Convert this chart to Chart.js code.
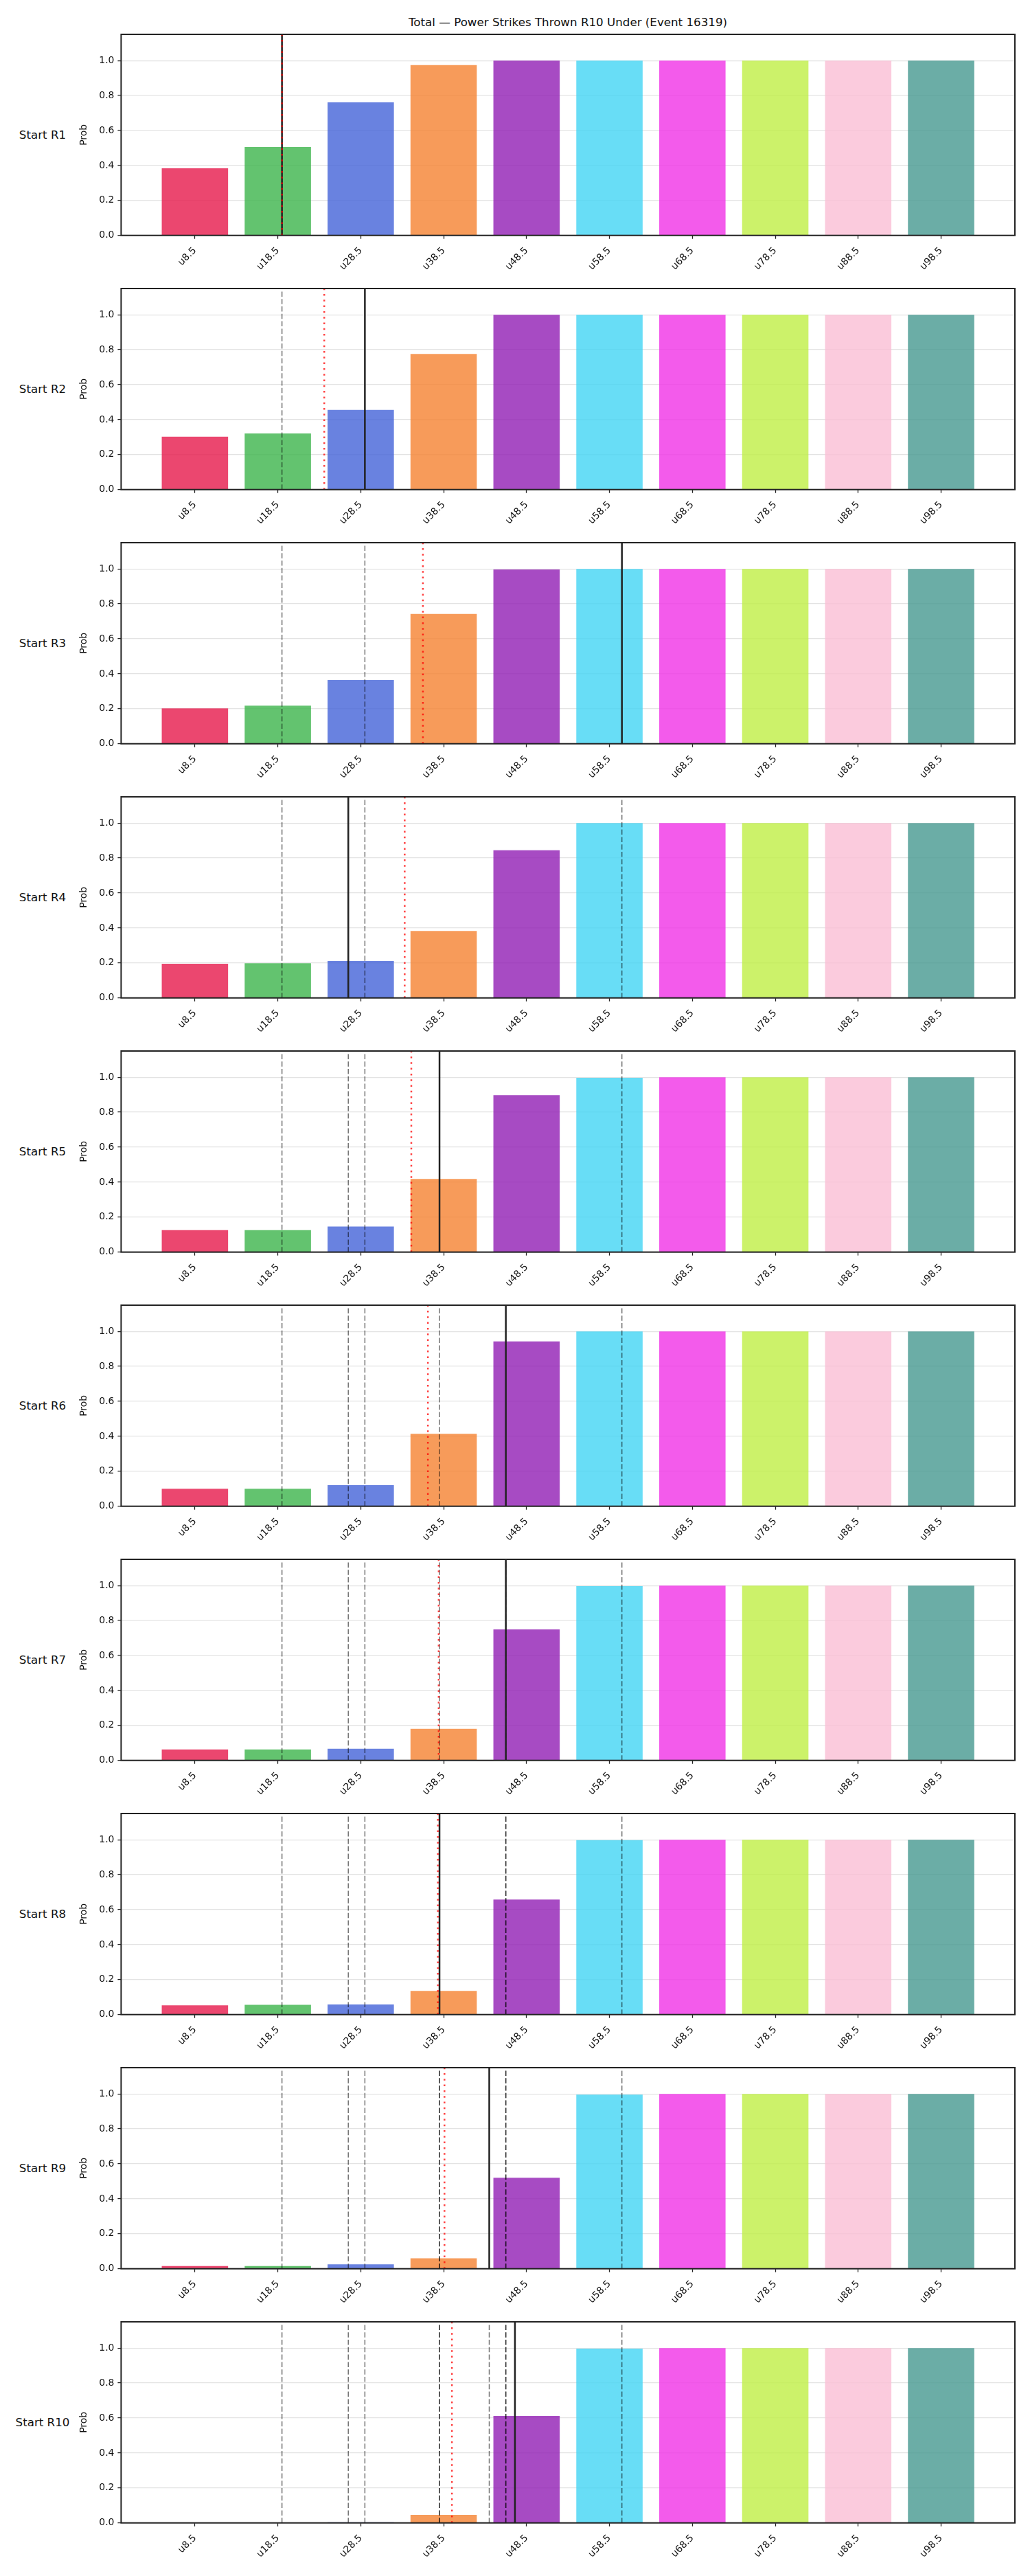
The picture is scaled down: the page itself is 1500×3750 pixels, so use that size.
<!DOCTYPE html>
<html>
<head>
<meta charset="utf-8">
<script src="https://cdn.jsdelivr.net/npm/chart.js@4.4.1/dist/chart.umd.min.js"></script>
<style>
  body { margin: 0; background: #fff; }
  #page { position: relative; width: 1500px; height: 3750px; font-family: 'DejaVu Sans', sans-serif; color: #111; }
  #title { position: absolute; left: 0; top: 22px; width: 1654px; text-align: center; font-size: 16.7px; line-height: 20px; }
  .row-label { position: absolute; left: 0; width: 124px; text-align: center; font-size: 16.7px; line-height: 20px; }
  canvas { position: absolute; left: 0; }
</style>
</head>
<body>
<div id="page">
  <div id="title">Total — Power Strikes Thrown R10 Under (Event 16319)</div>
</div>
<script>
const categories = ['u8.5', 'u18.5', 'u28.5', 'u38.5', 'u48.5', 'u58.5', 'u68.5', 'u78.5', 'u88.5', 'u98.5'];
const rowLabels = ['Start R1', 'Start R2', 'Start R3', 'Start R4', 'Start R5', 'Start R6', 'Start R7', 'Start R8', 'Start R9', 'Start R10'];

// probability per threshold, one list per starting round
const startR1  = [0.384, 0.506, 0.761, 0.974, 1.0, 1.0, 1.0, 1.0, 1.0, 1.0];
const startR2  = [0.302, 0.321, 0.456, 0.776, 1.0, 1.0, 1.0, 1.0, 1.0, 1.0];
const startR3  = [0.202, 0.218, 0.364, 0.742, 0.997, 1.0, 1.0, 1.0, 1.0, 1.0];
const startR4  = [0.195, 0.198, 0.211, 0.383, 0.845, 1.0, 1.0, 1.0, 1.0, 1.0];
const startR5  = [0.126, 0.126, 0.146, 0.418, 0.898, 0.997, 1.0, 1.0, 1.0, 1.0];
const startR6  = [0.100, 0.100, 0.121, 0.414, 0.943, 1.0, 1.0, 1.0, 1.0, 1.0];
const startR7  = [0.063, 0.063, 0.067, 0.181, 0.749, 0.997, 1.0, 1.0, 1.0, 1.0];
const startR8  = [0.053, 0.056, 0.058, 0.135, 0.658, 0.998, 1.0, 1.0, 1.0, 1.0];
const startR9  = [0.016, 0.016, 0.025, 0.060, 0.520, 0.996, 1.0, 1.0, 1.0, 1.0];
const startR10 = [0.0, 0.0, 0.004, 0.046, 0.612, 0.997, 1.0, 1.0, 1.0, 1.0];
const rows = [startR1, startR2, startR3, startR4, startR5, startR6, startR7, startR8, startR9, startR10];

// marker positions on the threshold axis (0 = u8.5, 1 = u18.5, ...)
const solidLines  = [1.05, 2.05, 5.15, 1.85, 2.95, 3.75, 3.75, 2.95, 3.55, 3.86];
const dottedLines = [1.05, 1.56, 2.75, 2.53, 2.61, 2.81, 2.94, 2.93, 3.01, 3.10];

const barColors = [
  'rgba(230,25,75,0.8)', 'rgba(60,180,75,0.8)', 'rgba(67,99,216,0.8)', 'rgba(245,130,49,0.8)',
  'rgba(145,30,180,0.8)', 'rgba(66,212,244,0.8)', 'rgba(240,50,230,0.8)', 'rgba(191,239,69,0.8)',
  'rgba(250,190,212,0.8)', 'rgba(70,153,144,0.8)'
];

Chart.defaults.font.family = "'DejaVu Sans', sans-serif";
Chart.defaults.font.size = 13.9;
Chart.defaults.color = '#111';

const overlay = {
  id: 'overlay',
  afterDatasetsDraw(chart, args, opts) {
    const { ctx, chartArea: a, scales: { x } } = chart;
    const row = opts.row;
    const vline = (v, color, width, dash) => {
      const px = x.getPixelForValue(v);
      ctx.beginPath();
      ctx.strokeStyle = color;
      ctx.lineWidth = width;
      ctx.setLineDash(dash);
      ctx.moveTo(px, a.bottom);
      ctx.lineTo(px, a.top);
      ctx.stroke();
    };
    ctx.save();
    for (let k = 0; k < row; k++) vline(solidLines[k], 'rgba(0,0,0,0.55)', 1.5, [7.5, 3.3]);
    vline(solidLines[row], '#222', 2.5, []);
    vline(dottedLines[row], 'rgba(255,0,0,0.75)', 2.5, [2.5, 5.8]);
    ctx.setLineDash([]);
    ctx.strokeStyle = '#222';
    ctx.lineWidth = 2;
    ctx.strokeRect(a.left, a.top, a.right - a.left, a.bottom - a.top);
    ctx.restore();
  }
};

const page = document.getElementById('page');

rows.forEach((vals, i) => {
  const label = document.createElement('div');
  label.className = 'row-label';
  label.style.top = (50 + 370 * i + 146 - 10) + 'px';
  label.textContent = rowLabels[i];
  page.appendChild(label);

  const canvas = document.createElement('canvas');
  canvas.width = 1500;
  canvas.height = 370;
  canvas.style.top = (46 + 370 * i) + 'px';
  page.appendChild(canvas);

  new Chart(canvas, {
    type: 'bar',
    data: {
      datasets: [{
        data: vals.map((v, k) => ({ x: k, y: v })),
        backgroundColor: barColors,
        borderWidth: 0,
        barPercentage: 0.8,
        categoryPercentage: 1.0
      }]
    },
    plugins: [overlay],
    options: {
      responsive: false,
      animation: false,
      devicePixelRatio: 1,
      layout: { padding: { left: 114, right: 22, top: 4, bottom: 0 } },
      plugins: {
        legend: { display: false },
        tooltip: { enabled: false },
        overlay: { row: i }
      },
      scales: {
        x: {
          type: 'linear',
          offset: false,
          min: -0.89,
          max: 9.89,
          afterBuildTicks: s => { s.ticks = categories.map((_, k) => ({ value: k })); },
          ticks: {
            autoSkip: false, minRotation: 45, maxRotation: 45, padding: 9,
            callback: v => categories[v]
          },
          grid: { offset: false, drawOnChartArea: false, tickColor: '#222', tickLength: 5, tickWidth: 1.3 },
          border: { display: false },
          afterFit: s => { s.height = 73.3; s.paddingLeft = 0; s.paddingRight = 0; }
        },
        y: {
          min: 0,
          max: 1.15,
          ticks: { stepSize: 0.2, includeBounds: false, padding: 5, callback: v => v.toFixed(1) },
          grid: { color: '#e3e3e3', lineWidth: 1.2, tickColor: '#222', tickLength: 5, tickWidth: 1.3 },
          border: { display: false },
          title: { display: true, text: 'Prob', padding: 0 },
          afterFit: s => { s.width = 62.4; s.paddingTop = 0; s.paddingBottom = 0; }
        }
      }
    }
  });
});
</script>
</body>
</html>
